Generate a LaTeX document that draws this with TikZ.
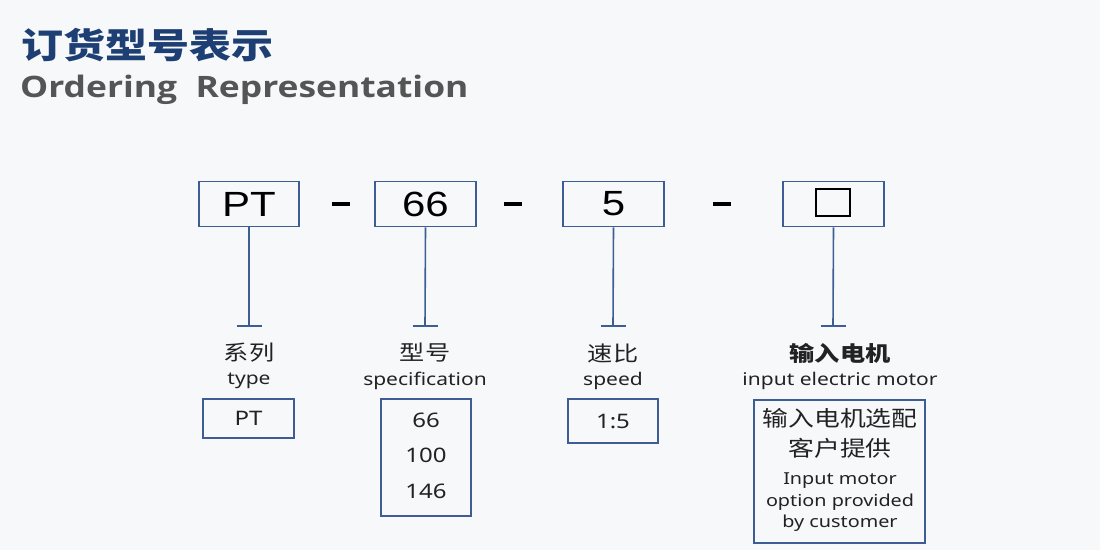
\documentclass[tikz,border=0pt]{standalone}
\usepackage{graphicx}
\usepackage{fontspec}
\setmainfont{Noto Sans}
\newfontfamily\cjk{Noto Sans CJK SC}
\newfontfamily\arialf{Liberation Sans}
\newfontfamily\titlef{Open Sans}
\newcommand\sxw[1]{\scalebox{1.2}[1]{#1}}
\definecolor{bg}{HTML}{F7F8FA}
\definecolor{boxc}{HTML}{3E5D96}
\definecolor{titleblue}{HTML}{1D3F74}
\definecolor{greyt}{HTML}{555555}
\definecolor{txt}{HTML}{222222}
\begin{document}
\begin{tikzpicture}[x=1pt,y=-1pt,
  bx/.style={draw=boxc,line width=1.6pt,inner sep=0pt},
  conn/.style={draw=boxc,line width=1.6pt},
  big/.style={font=\arialf\fontsize{35}{35}\selectfont,text=black,inner sep=0pt},
  lab/.style={font=\fontsize{17.5}{17.5}\selectfont,text=txt,inner sep=0pt},
  inlab/.style={font=\fontsize{16.5}{16.5}\selectfont,text=txt,inner sep=0pt},
  cn/.style={font=\cjk\fontsize{21}{21}\selectfont,text=txt,inner sep=0pt},
  val/.style={font=\fontsize{20}{20}\selectfont,text=txt,inner sep=0pt},
  dashbar/.style={fill=black,minimum width=18pt,minimum height=3.6pt,inner sep=0pt}]
\fill[bg] (0,0) rectangle (1100,550);
\useasboundingbox (0,0) rectangle (1100,550);
% titles
\node[anchor=west,inner sep=0pt,text=titleblue,font=\cjk\bfseries\fontsize{35}{35}\selectfont] (t1) at (21,45) {\sxw{订货型号表示}};
\node[anchor=west,inner sep=0pt,text=greyt,font=\titlef\bfseries\fontsize{29.5}{29.5}\selectfont] (t2) at (20,90) {\sxw{Ordering\ \ Representation}};
% top boxes
\node[bx,minimum width=100pt,minimum height=45pt] (b1) at (249,204) {};
\node[big] (b1t) at (b1.center) {\sxw{PT}};
\node[bx,minimum width=101pt,minimum height=45pt] (b2) at (425.5,204) {};
\node[big] (b2t) at (b2.center) {\sxw{66}};
\node[bx,minimum width=101pt,minimum height=45pt] (b3) at (613.5,204) {};
\node[big] (b3t) at (b3.center) {\sxw{5}};
\node[bx,minimum width=101pt,minimum height=45pt] (b4) at (833.5,204) {};
\node[draw=black,line width=1.2pt,minimum width=34pt,minimum height=27pt,inner sep=0pt] (b4t) at (833,202.5) {};
% dashes
\node[dashbar] (d1) at (341,204) {};
\node[dashbar] (d2) at (513,204) {};
\node[dashbar] (d3) at (722,204) {};
% connectors with T ends
\coordinate (e1) at (249,326); \coordinate (e2) at (425,326);
\coordinate (e3) at (613,326); \coordinate (e4) at (833,326);
\foreach \n in {1,2,3,4}{
  \draw[conn] (b\n.south) -- (e\n);
  \draw[conn] ([xshift=-12.5pt]e\n) -- ([xshift=12.5pt]e\n);
}
% labels
\node[cn] (l1a) at (249,353) {\sxw{系列}};
\node[lab] (l1b) at (249,381) {\sxw{type}};
\node[cn] (l2a) at (425,353) {\sxw{型号}};
\node[lab] (l2b) at (425,381) {\sxw{specification}};
\node[cn] (l3a) at (613,353) {\sxw{速比}};
\node[lab] (l3b) at (613,381) {\sxw{speed}};
\node[cn,font=\cjk\bfseries\fontsize{21}{21}\selectfont] (l4a) at (840,353) {\sxw{输入电机}};
\node[lab] (l4b) at (840,381) {\sxw{input electric motor}};
% lower boxes
\node[bx,minimum width=91pt,minimum height=39pt] (p1) at (248.5,418.5) {};
\node[val] (p1t) at (p1.center) {\sxw{PT}};
\node[bx,minimum width=90pt,minimum height=117pt] (p2) at (426,457.5) {};
\node[val] (p2a) at (426,420) {\sxw{66}};
\node[val] (p2b) at (426,455.5) {\sxw{100}};
\node[val] (p2c) at (426,491) {\sxw{146}};
\node[bx,minimum width=90pt,minimum height=44pt] (p3) at (613,421) {};
\node[val] (p3t) at (p3.center) {\sxw{1:5}};
\node[bx,minimum width=171pt,minimum height=143pt] (p4) at (839.5,471.5) {};
\node[cn,font=\cjk\fontsize{21.5}{21.5}\selectfont] (p4a) at (840,418) {\sxw{输入电机选配}};
\node[cn,font=\cjk\fontsize{21.5}{21.5}\selectfont] (p4b) at (840,448) {\sxw{客户提供}};
\node[inlab] (p4c) at (840,481) {\sxw{Input motor}};
\node[inlab] (p4d) at (840,502) {\sxw{option provided}};
\node[inlab] (p4e) at (840,523) {\sxw{by customer}};
\end{tikzpicture}
\end{document}
